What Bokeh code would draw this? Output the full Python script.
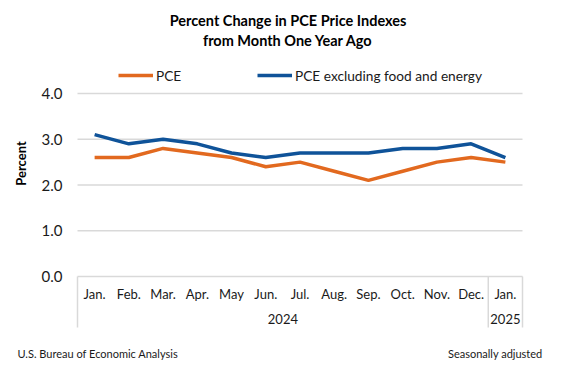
import math
from bokeh.plotting import figure
from bokeh.models import (Range1d, Legend, LegendItem, Label, ColumnDataSource)
from bokeh.embed import file_html
from bokeh.resources import INLINE
from bokeh.core.properties import value

# ---- data ----
months = ["Jan.", "Feb.", "Mar.", "Apr.", "May", "Jun.", "Jul.", "Aug.",
          "Sep.", "Oct.", "Nov.", "Dec.", "Jan."]
years = ["2024", "2025"]
year_first = [0, 12]          # index of first month of each year
year_count = [12, 1]          # number of months in each year
pce = [2.6, 2.6, 2.8, 2.7, 2.6, 2.4, 2.5, 2.3, 2.1, 2.3, 2.5, 2.6, 2.5]
core = [3.1, 2.9, 3.0, 2.9, 2.7, 2.6, 2.7, 2.7, 2.7, 2.8, 2.8, 2.9, 2.6]
y_ticks = [0, 1, 2, 3, 4]
y_tick_labels = ["%.1f" % t for t in y_ticks]

# ---- style / layout ----
FONT = "Lato"
ORANGE = "#e2691f"
BLUE = "#0f5399"
GRID = "#d9d9d9"
TXT = "#1a1a1a"

W, H = 557, 363
OFF_X, OFF_Y = 0, 0           # page offset of the canvas (measured)
n = len(months)
CH_LEFT, CH_RIGHT = 77, 522   # page px of chart area edges
Y0_PX, Y4_PX = 276, 93        # page px of value 0 and 4
UX = (CH_RIGHT - CH_LEFT) / n
UY = (Y0_PX - Y4_PX) / 4.0


def fx(px):
    return (px - CH_LEFT) / UX


def fy(py):
    return (Y0_PX - py) / UY


x_range = Range1d(fx(OFF_X), fx(OFF_X + W))
y_range = Range1d(fy(OFF_Y + H), fy(OFF_Y))

p = figure(width=W, height=H, x_range=x_range, y_range=y_range,
           output_backend="svg", toolbar_location=None,
           min_border=0, x_axis_location=None, y_axis_location=None,
           outline_line_color=None)
p.grid.visible = False

xs = [i + 0.5 for i in range(n)]
BOX_BOTTOM = fy(327)

# grid lines at the y ticks across the chart area
p.segment(x0=[0] * len(y_ticks), x1=[n] * len(y_ticks), y0=y_ticks, y1=y_ticks,
          line_color=GRID, line_width=1.5)
# category box lines (left edge, year separators, right edge)
sep_x = year_first + [n]
p.segment(x0=sep_x, x1=sep_x, y0=[0] * len(sep_x), y1=[BOX_BOTTOM] * len(sep_x),
          line_color=GRID, line_width=1.5)

# y tick labels
p.text(x=[fx(62)] * len(y_ticks), y=y_ticks, text=y_tick_labels,
       text_align="right", text_baseline="middle", text_font=value(FONT),
       text_font_size="15px", text_color=TXT)
# y axis title
p.text(x=[fx(20)], y=[fy(163)], text=["Percent"], angle=math.pi / 2,
       text_align="center", text_baseline="middle", text_font=value(FONT),
       text_font_size="13px", text_font_style="bold", text_color="#000000")

# month labels
p.text(x=xs, y=[fy(293)] * n, text=months, text_align="center",
       text_baseline="middle", text_font=value(FONT), text_font_size="13px",
       text_color=TXT)
# year labels
yx = [f + c / 2 for f, c in zip(year_first, year_count)]
p.text(x=yx, y=[fy(318)] * len(years), text=years, text_align="center",
       text_baseline="middle", text_font=value(FONT), text_font_size="13px",
       text_color=TXT)

# series
src = ColumnDataSource(dict(x=xs, pce=pce, core=core))
r1 = p.line("x", "pce", source=src, line_color=ORANGE, line_width=3.5)
r2 = p.line("x", "core", source=src, line_color=BLUE, line_width=3.5)

# legend (tuple location = bottom-left corner, px from frame bottom-left)
legend = Legend(items=[LegendItem(label="PCE", renderers=[r1]),
                       LegendItem(label="PCE excluding food and energy", renderers=[r2])],
                orientation="horizontal",
                location=(118 - OFF_X, H - (75 - OFF_Y + 10)),
                glyph_width=35, glyph_height=20, label_standoff=3,
                label_width=91, spacing=10, padding=0, margin=0,
                border_line_color=None, background_fill_alpha=0,
                label_text_font=FONT, label_text_font_size="13.7px",
                label_text_color=TXT)
p.add_layout(legend)

# title
for txt, py in [("Percent Change in PCE Price Indexes", 20),
                ("from Month One Year Ago", 40)]:
    p.add_layout(Label(x=fx(287.5), y=fy(py), text=txt, text_align="center",
                       text_baseline="middle", text_font=FONT,
                       text_font_size="14.5px", text_font_style="bold",
                       text_color="#000000"))

# footer
p.add_layout(Label(x=fx(17), y=fy(352.5), text="U.S. Bureau of Economic Analysis",
                   text_align="left", text_baseline="middle", text_font=FONT,
                   text_font_size="11px", text_color=TXT))
p.add_layout(Label(x=fx(542), y=fy(352.5), text="Seasonally adjusted",
                   text_align="right", text_baseline="middle", text_font=FONT,
                   text_font_size="11px", text_color=TXT))

open("out.html", "w").write(file_html(p, INLINE))
